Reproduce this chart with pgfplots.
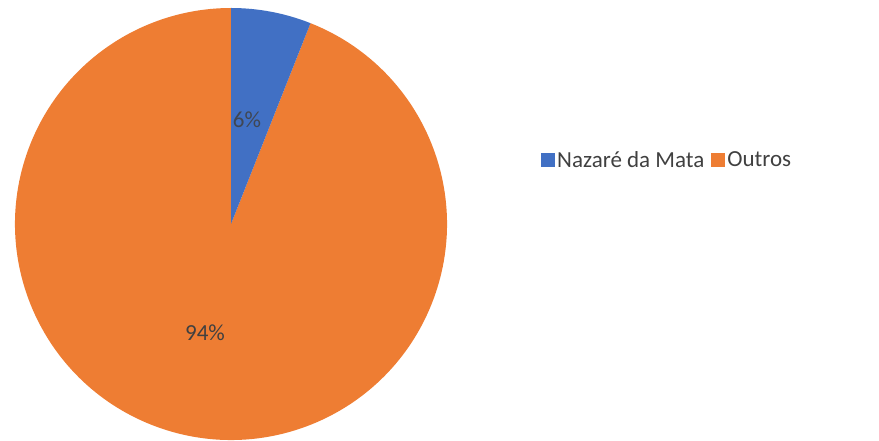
\documentclass[border=0pt]{standalone}
\usepackage{pgfplots}
\usepackage{pgfplotstable}
\pgfplotsset{compat=1.18}
\usepackage{fontspec}
\setmainfont{Carlito}
\definecolor{blueC}{HTML}{4170C4}
\definecolor{orangeC}{HTML}{EE7D33}
\definecolor{txt}{HTML}{404040}
\pgfplotstableread{
label value
Nazare 6
Outros 94
}\pietable
\begin{document}
\begin{tikzpicture}
\pgfplotstablegetelem{0}{value}\of\pietable \let\va\pgfplotsretval
\pgfplotstablegetelem{1}{value}\of\pietable \let\vb\pgfplotsretval
\pgfmathsetmacro{\aEnd}{90-3.6*\va}
\pgfmathsetmacro{\bEnd}{\aEnd-3.6*\vb}
\begin{axis}[
  x=1pt, y=1pt,
  xmin=0, xmax=879, ymin=0, ymax=441,
  hide axis, clip=false,
  legend style={at={(axis cs:541,281)}, anchor=west, draw=none, fill=none,
    font=\fontsize{23}{26}\selectfont\color{txt}, legend columns=2,
    /tikz/every even column/.append style={column sep=5pt},
    legend cell align=left, inner sep=0pt},
  legend image code/.code={\fill[#1,draw=none] (0pt,-7pt) rectangle (14pt,7pt);},
]
\coordinate (ll) at (axis cs:0,0);
\coordinate (ur) at (axis cs:879,441);
\fill[orangeC] (axis cs:231,217) -- ++(\aEnd:216pt) arc[start angle=\aEnd, end angle=\bEnd, radius=216pt] -- cycle;
\fill[blueC] (axis cs:231,217) -- ++(90:216pt) arc[start angle=90, end angle=\aEnd, radius=216pt] -- cycle;
\node[font=\fontsize{23}{26}\selectfont, text=txt!85!blueC] at (axis cs:247,321) {6\%};
\node[font=\fontsize{23}{26}\selectfont, text=txt] at (axis cs:205,108) {94\%};
\addlegendimage{fill=blueC,draw=none}
\addlegendentry{Nazaré da Mata}
\addlegendimage{fill=orangeC,draw=none}
\addlegendentry{Outros}
\end{axis}
\pgfresetboundingbox
\path[use as bounding box] (ll) rectangle (ur);
\end{tikzpicture}
\end{document}
